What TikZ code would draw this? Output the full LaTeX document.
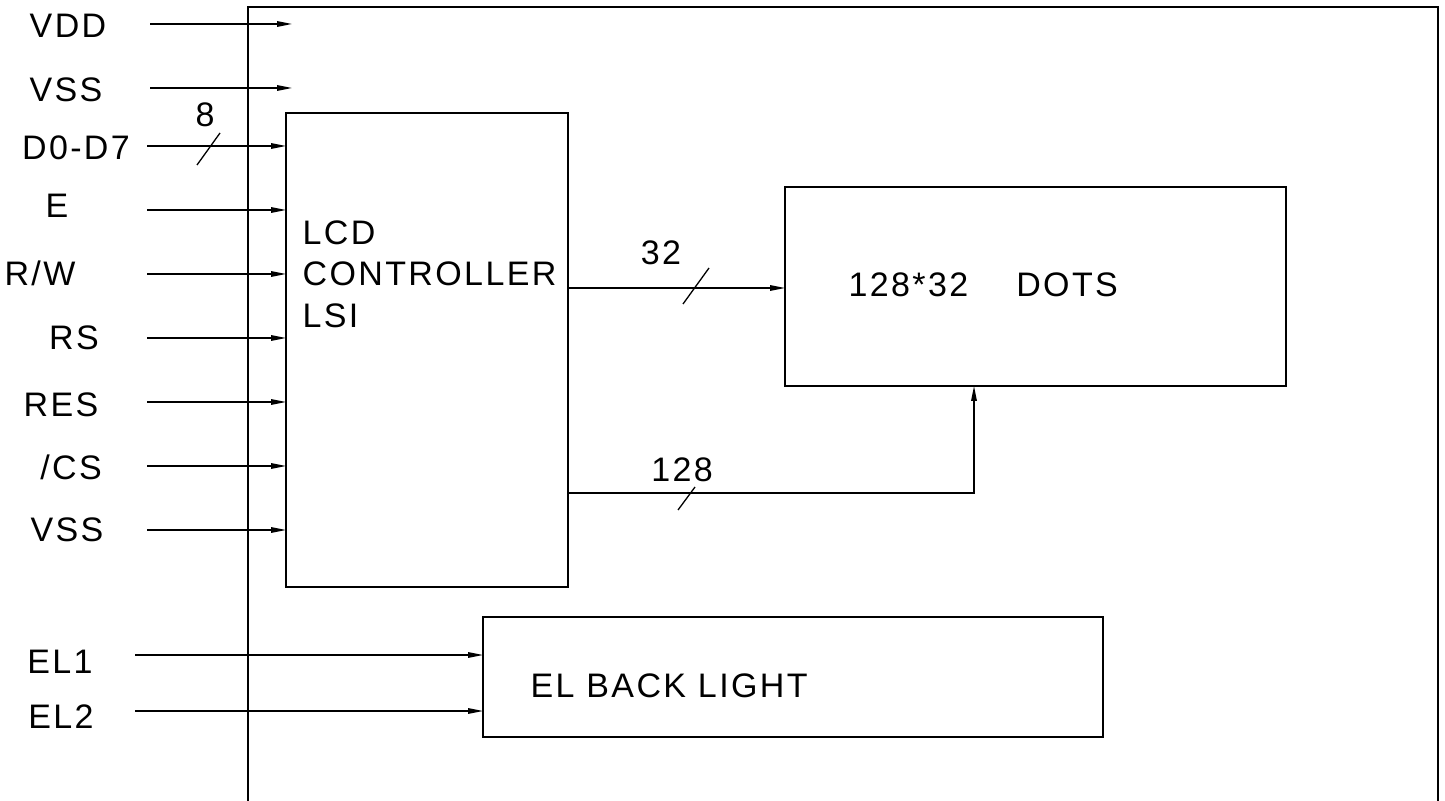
\documentclass[tikz,border=0pt]{standalone}
\usepackage{fontspec}
\setmainfont{Liberation Sans}[LetterSpace=7]
\usetikzlibrary{arrows.meta}
\usetikzlibrary{positioning}
\tikzset{sig/.style = {-{Triangle[length=7.5pt,width=2.8pt]}},
         blk/.style = {draw, inner sep=0pt, outer sep=0pt},
         lbl/.style = {anchor=base, inner sep=0pt, font=\fontsize{17}{20}\selectfont}}

\begin{document}
\begin{tikzpicture}[x=0.5pt, y=-0.5pt, line width=0.65pt]
      \useasboundingbox (0, 0) rectangle (1445, 801);

      % outer frame, open at the bottom
      \draw (248, 801) -- (248, 7) -- (1438, 7) -- (1438, 801);

      % blocks
      \node [blk, minimum width=141pt, minimum height=237pt] (ctrl) at (427, 350) {};
      \node [blk, minimum width=250.5pt, minimum height=99.5pt] (dots) at (1035.5, 286.5) {};
      \node [blk, minimum width=310pt, minimum height=60pt] (el) at (793, 677) {};

      \node [lbl, anchor=base west] (lcd) at (302, 245) {LCD};
      \node [lbl, anchor=base west] (cont) at (302, 286) {CONTROLLER};
      \node [lbl, anchor=base west] (lsi) at (302, 328) {LSI};
      \node [lbl, anchor=base west] (dotstxt) at (848, 297) {128*32\hspace{24pt}DOTS};
      \node [lbl, anchor=base west] (eltxt) at (530, 697) {EL BACK LIGHT};

      % supply pins
      \node [lbl] (vdd) at (68, 38) {VDD};
      \node [lbl] (vss) at (66, 102) {VSS};
      \coordinate (vdd-in) at (150, 24);
      \coordinate (vdd-end) at (292, 24);
      \coordinate (vss-in) at (150, 88);
      \coordinate (vss-end) at (292, 88);
      \draw [sig] (vdd-in) -- (vdd-end);
      \draw [sig] (vss-in) -- (vss-end);

      % controller pins
      \foreach \nm/\txt/\lx/\ly/\sy in {d/{D0-D7}/76/160/146, e/E/57/218/210,
          rw/{R/W}/40/286/274, rs/RS/74/350/338, res/RES/61/417/402,
          cs/{/CS}/71/480/466, vssb/VSS/67/542/530}
      {
        \node [lbl] (\nm) at (\lx, \ly) {\txt};
        \coordinate (\nm-in) at (147, \sy);
        \draw [sig] (\nm-in) -- (\nm-in -| ctrl.west);
      }
      \draw (197, 165) -- (220, 133);
      \node [lbl] (eight) at (205, 127) {8};

      % controller to dots
      \coordinate (c32) at (ctrl.east |- 0, 288);
      \draw [sig] (c32) -- (c32 -| dots.west);
      \draw (683, 304) -- (709, 268);
      \node [lbl] (n32) at (661, 265) {32};

      \coordinate (c128) at (ctrl.east |- 0, 493);
      \coordinate (bend) at (974, 493);
      \draw [sig] (c128) -- (bend) -- (bend |- dots.south);
      \draw (678, 510) -- (695, 487);
      \node [lbl] (n128) at (682, 482) {128};

      % back light pins
      \node [lbl] (elone) at (60, 673) {EL1};
      \node [lbl] (eltwo) at (61, 728) {EL2};
      \coordinate (el1-in) at (135, 655);
      \coordinate (el2-in) at (135, 711);
      \draw [sig] (el1-in) -- (el1-in -| el.west);
      \draw [sig] (el2-in) -- (el2-in -| el.west);
    \end{tikzpicture}
\end{document}
